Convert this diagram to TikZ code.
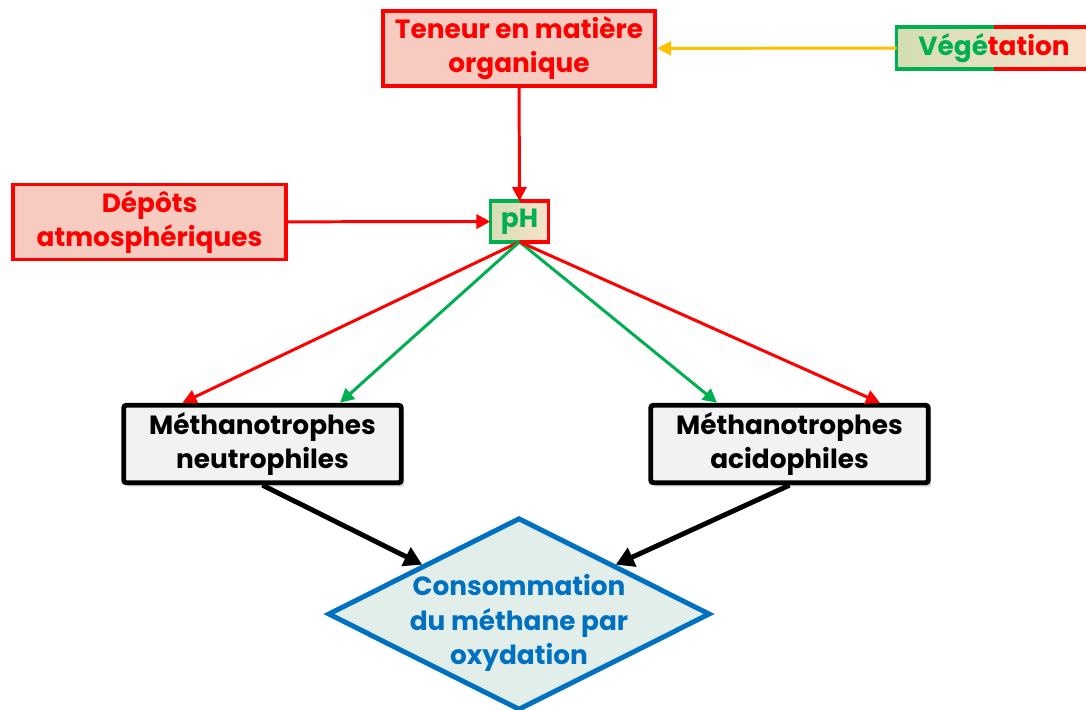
\documentclass[tikz,border=0pt]{standalone}
\usepackage{fontspec}
\setmainfont{Poppins}
\usetikzlibrary{arrows.meta,shapes.geometric,shadows}

\definecolor{rouge}{HTML}{FF0000}
\definecolor{vert}{HTML}{00B050}
\definecolor{bleu}{HTML}{0070C0}
\definecolor{jaune}{HTML}{FFC000}
\definecolor{rose}{HTML}{F8CBC1}
\definecolor{grisclair}{HTML}{F2F2F2}
\definecolor{vertpale}{HTML}{E2EEEA}
\definecolor{olive}{HTML}{D2DEB2}
\definecolor{peche}{HTML}{FAE2CE}

\tikzset{
    boiterouge/.style={draw=rouge, line width=2.2pt, fill=rose, text=rouge, align=center,
        minimum width=5.45cm, minimum height=1.5cm, inner sep=0pt},
    boitedeux/.style={left color=olive, right color=peche, inner sep=0pt},
    boitenoire/.style={draw=black, line width=2.8pt, fill=grisclair, rounded corners=1.5pt,
        align=center, minimum width=5.55cm, minimum height=1.55cm, inner sep=0pt,
        drop shadow={opacity=0.35, shadow xshift=0.06cm, shadow yshift=-0.08cm}},
    losange/.style={diamond, draw=bleu, line width=2.8pt, fill=vertpale,
        minimum width=7.65cm, minimum height=3.85cm, inner sep=0pt},
    fleche/.style={line width=1.7pt, -{Triangle[length=0.28cm, width=0.28cm]}},
    flechenoire/.style={line width=2.8pt, -{Triangle[length=0.36cm, width=0.4cm]}}
}

\begin{document}
\begin{tikzpicture}[x=0.02cm, y=-0.02cm, font=\bfseries\fontsize{15}{19.5}\selectfont]
    \useasboundingbox (0,0) rectangle (1086,710);

    % boites
    \node[boiterouge] (teneur) at (519,48.5) {Teneur en matière\\organique};
    \node[boiterouge] (depots) at (149.5,222) {Dépôts\\atmosphériques};
    \node[boitedeux, minimum width=3.88cm, minimum height=0.82cm] (vege) at (994,48)
        {\textcolor{vert}{Végé}\textcolor{rouge}{tation}};
    \node[boitedeux, minimum width=1.15cm, minimum height=0.8cm, text=vert] (ph) at (519.5,221.5) {pH};
    \foreach \n in {vege,ph}
    {
        \draw[vert, line width=2pt] (\n.north) -- (\n.north west) -- (\n.south west) -- (\n.south);
        \draw[rouge, line width=2pt] (\n.north) -- (\n.north east) -- (\n.south east) -- (\n.south);
    }

    \node[boitenoire] (neutro) at (262.5,444) {Méthanotrophes\\neutrophiles};
    \node[boitenoire] (acido) at (789.5,444) {Méthanotrophes\\acidophiles};

    \node[losange, label={[text=bleu, align=center, yshift=-0.18cm]center:Consommation\\du méthane par\\oxydation}]
        (conso) at (519,614) {};

    % fleches
    \draw[fleche, jaune] (vege) -- (teneur);
    \draw[fleche, rouge] (teneur) -- (ph);
    \draw[fleche, rouge] (depots) -- (ph);

    \draw[fleche, rouge] (ph.south) -- ([xshift=-1.6cm]neutro.north);
    \draw[fleche, vert]  (ph.south) -- ([xshift=1.55cm]neutro.north);
    \draw[fleche, vert]  (ph.south) -- ([xshift=-1.45cm]acido.north);
    \draw[fleche, rouge] (ph.south) -- ([xshift=1.81cm]acido.north);

    \draw[flechenoire] (neutro.south) -- (conso.north west);
    \draw[flechenoire] (acido.south) -- (conso.north east);
\end{tikzpicture}
\end{document}
